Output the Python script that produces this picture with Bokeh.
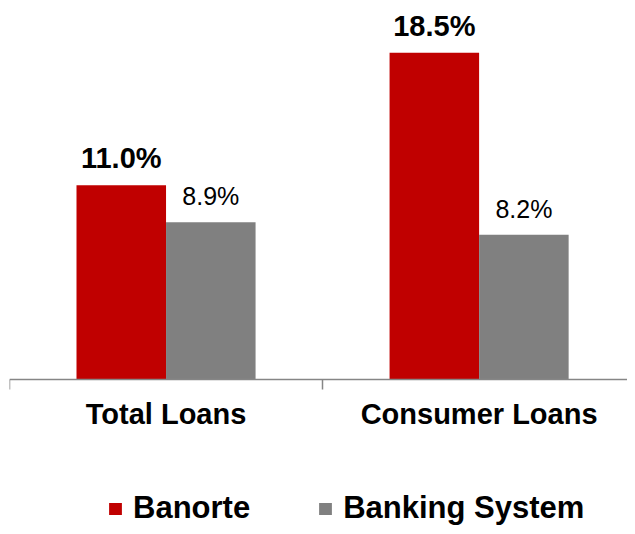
from bokeh.plotting import figure
from bokeh.models import (ColumnDataSource, Range1d, FixedTicker, Legend, LegendItem)
from bokeh.core.properties import value
from bokeh.embed import file_html
from bokeh.resources import INLINE

categories = ["Total Loans", "Consumer Loans"]
banorte = [11.0, 18.5]
banking_system = [8.9, 8.2]
series_names = ["Banorte", "Banking System"]
colors = ["#C00000", "#808080"]

FONT = "Liberation Sans"
bar_w = 0.286
idx = list(range(len(categories)))
x_b = [i + 0.5 - bar_w / 2 for i in idx]
x_s = [i + 0.5 + bar_w / 2 for i in idx]

src_b = ColumnDataSource(dict(x=x_b, top=banorte, lab=[f"{v:.1f}%" for v in banorte]))
src_s = ColumnDataSource(dict(x=x_s, top=banking_system, lab=[f"{v:.1f}%" for v in banking_system]))

p = figure(width=627, height=526, output_backend="svg", toolbar_location=None,
           x_range=Range1d(0, 1.974), y_range=Range1d(-8.32, 21.0),
           min_border_left=9, min_border_right=0, min_border_top=8, min_border_bottom=0,
           background_fill_color="white", border_fill_color="white")
p.outline_line_color = None
p.grid.visible = False
p.yaxis.visible = False

r_b = p.vbar(x="x", top="top", width=bar_w, bottom=0, source=src_b,
             fill_color=colors[0], line_color=None)
r_s = p.vbar(x="x", top="top", width=bar_w, bottom=0, source=src_s,
             fill_color=colors[1], line_color=None)

p.text(x="x", y="top", text="lab", source=src_b, text_font=value(FONT),
       text_font_size="29px", text_font_style="bold", text_color="black",
       text_align="center", text_baseline="alphabetic", y_offset=-27)
p.text(x="x", y="top", text="lab", source=src_s, text_font=value(FONT),
       text_font_size="25px", text_color="black",
       text_align="center", text_baseline="alphabetic", y_offset=-26)

ax = p.xaxis[0]
ax.fixed_location = 0
ax.ticker = FixedTicker(ticks=[i + 0.5 for i in idx], minor_ticks=[float(i) for i in range(len(categories) + 1)])
ax.major_label_overrides = {i + 0.5: c for i, c in zip(idx, categories)}
ax.major_tick_out = 0
ax.major_tick_in = 0
ax.minor_tick_out = 10
ax.minor_tick_in = 0
ax.minor_tick_line_color = "#868686"
ax.minor_tick_line_width = 1.5
ax.axis_line_color = "#868686"
ax.axis_line_width = 1.5
ax.major_label_text_font = FONT
ax.major_label_text_font_size = "29px"
ax.major_label_text_font_style = "bold"
ax.major_label_text_color = "black"
ax.major_label_standoff = 8

legend = Legend(items=[LegendItem(label=series_names[0], renderers=[r_b]),
                       LegendItem(label=series_names[1], renderers=[r_s])],
                orientation="horizontal", location=(98, 0),
                glyph_width=16, glyph_height=15, label_standoff=10, spacing=67,
                padding=0, margin=0, border_line_color=None,
                label_text_font=FONT, label_text_font_size="31px",
                label_text_font_style="bold", label_text_color="black",
                background_fill_alpha=0)
p.add_layout(legend, "center")

open("out.html", "w").write(file_html(p, INLINE))
